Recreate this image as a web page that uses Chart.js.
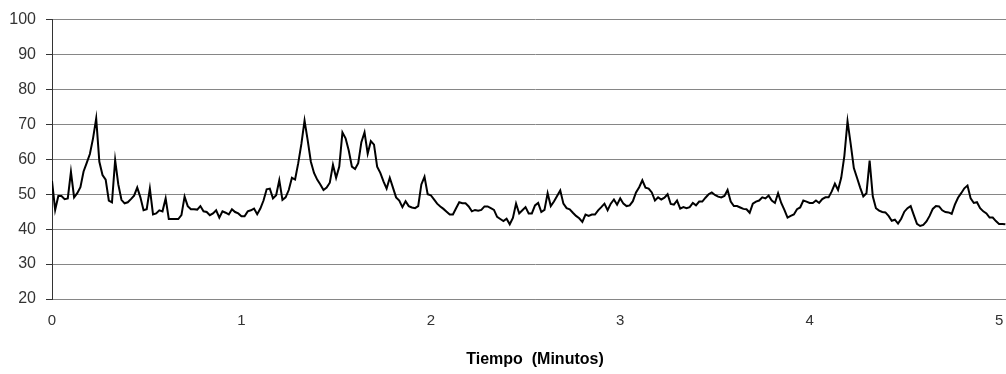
<!DOCTYPE html>
<html>
<head>
<meta charset="utf-8">
<script src="https://cdn.jsdelivr.net/npm/chart.js@4.4.1/dist/chart.umd.min.js"></script>
<style>
  html, body { margin: 0; padding: 0; background: #fff; overflow: hidden; }
  #wrap { position: relative; width: 1018px; height: 374px; }
</style>
</head>
<body>
<div id="wrap"><canvas id="chart"></canvas></div>
<script>
// Lecturas de un muestreo por segundo, agrupadas por minuto
const MIN_0 = [
  53.8, 45.5, 49.5, 49.5, 48.6, 48.8, 56.4, 49.1, 50.3, 52.0,
  56.5, 59.0, 61.5, 66.0, 71.7, 59.3, 55.5, 54.2, 48.2, 47.7,
  59.8, 52.8, 48.4, 47.4, 47.7, 48.6, 49.6, 51.9, 49.1, 45.4,
  45.7, 51.6, 44.2, 44.5, 45.4, 45.1, 48.8, 42.9, 42.9, 42.9,
  42.9, 44.0, 49.3, 46.6, 45.7, 45.7, 45.6, 46.6, 45.1, 44.9,
  44.0, 44.5, 45.4, 43.3, 45.1, 44.7, 44.2, 45.7, 44.9, 44.5,
];
const MIN_1 = [
  43.7, 43.7, 45.1, 45.4, 45.9, 44.3, 45.9, 48.2, 51.4, 51.6,
  48.8, 49.7, 54.0, 48.4, 49.1, 51.2, 54.7, 54.2, 58.9, 64.4,
  71.1, 65.4, 59.3, 56.1, 54.2, 52.8, 51.2, 51.9, 53.3, 58.4,
  54.7, 57.9, 67.7, 66.0, 62.5, 57.9, 57.2, 58.9, 64.9, 67.7,
  61.6, 65.2, 64.2, 57.9, 56.1, 53.7, 51.6, 54.7, 51.9, 49.1,
  48.2, 46.3, 48.0, 46.6, 46.2, 46.0, 46.6, 52.8, 55.0, 50.0,
];
const MIN_2 = [
  49.7, 48.5, 47.3, 46.5, 45.8, 45.0, 44.2, 44.2, 46.0, 47.7,
  47.4, 47.4, 46.5, 45.1, 45.5, 45.3, 45.5, 46.5, 46.5, 46.0,
  45.5, 43.5, 42.9, 42.3, 43.0, 41.4, 43.2, 47.3, 44.5, 45.4,
  46.3, 44.5, 44.5, 46.8, 47.5, 44.9, 45.5, 50.3, 46.6, 47.9,
  49.5, 51.1, 47.3, 46.0, 45.7, 44.7, 43.8, 43.1, 42.1, 44.2,
  43.8, 44.2, 44.2, 45.4, 46.3, 47.3, 45.4, 47.3, 48.5, 47.0,
];
const MIN_3 = [
  48.8, 47.3, 46.6, 46.8, 48.0, 50.5, 52.0, 54.0, 51.9, 51.6,
  50.5, 48.2, 49.1, 48.5, 49.0, 50.0, 47.2, 47.0, 48.2, 45.9,
  46.3, 46.0, 46.3, 47.5, 46.8, 47.9, 47.9, 49.0, 50.0, 50.5,
  49.8, 49.3, 49.1, 49.5, 51.2, 47.9, 46.6, 46.6, 46.2, 45.8,
  45.7, 44.7, 47.3, 47.9, 48.2, 49.1, 48.8, 49.6, 48.2, 47.5,
  50.3, 47.5, 45.5, 43.3, 43.8, 44.2, 45.7, 46.2, 48.2, 47.9,
];
const MIN_4 = [
  47.5, 47.5, 48.2, 47.5, 48.6, 49.1, 49.1, 50.8, 53.0, 51.2,
  54.7, 61.0, 70.9, 64.4, 57.5, 54.7, 51.9, 49.4, 50.3, 59.6,
  49.4, 46.0, 45.3, 44.9, 44.8, 43.8, 42.4, 42.7, 41.6, 43.0,
  45.0, 46.0, 46.6, 44.0, 41.5, 40.9, 41.2, 42.2, 43.8, 45.8,
  46.6, 46.5, 45.4, 44.9, 44.8, 44.4, 47.0, 49.0, 50.3, 51.7,
  52.5, 48.8, 47.5, 47.7, 46.0, 45.1, 44.5, 43.3, 43.3, 42.3,
];
const MIN_5 = [41.5, 41.5, 41.4];

const X_TICKS = [0, 1, 2, 3, 4, 5];          // minutos
const Y_TICKS = [20, 30, 40, 50, 60, 70, 80, 90, 100];
const X_TITLE = 'Tiempo  (Minutos)';

const FONT = '"Liberation Sans", Arial, sans-serif';
const GRID = '#868686';
const INK = '#333333';

const valores = [...MIN_0, ...MIN_1, ...MIN_2, ...MIN_3, ...MIN_4, ...MIN_5];
const puntos = valores.map((v, i) => ({ x: i / 60, y: v }));

new Chart(document.getElementById('chart'), {
  type: 'line',
  data: {
    datasets: [{
      data: puntos,
      borderColor: '#000000',
      borderWidth: 2,
      pointRadius: 0,
      tension: 0,
      fill: false,
    }],
  },
  options: {
    responsive: true,
    maintainAspectRatio: false,
    animation: false,
    events: [],
    layout: { padding: { top: 13, right: 0, bottom: 0, left: 0 } },
    plugins: {
      legend: { display: false },
      tooltip: { enabled: false },
    },
    scales: {
      x: {
        type: 'linear',
        min: X_TICKS[0],
        max: 5.1,
        afterBuildTicks(scale) {
          scale.ticks = X_TICKS.map(v => ({ value: v }));
        },
        afterFit(scale) { scale.height = 75; },
        grid: { display: false, drawTicks: false },
        border: { display: true, color: GRID, width: 1 },
        ticks: {
          font: { family: FONT, size: 15 },
          color: INK,
          padding: 13,
          maxRotation: 0,
          callback: v => String(v),
        },
        title: {
          display: true,
          text: X_TITLE,
          color: '#000000',
          font: { family: FONT, size: 16, weight: 'bold' },
          padding: { top: 0, bottom: 5 },
        },
      },
      y: {
        min: Y_TICKS[0],
        max: Y_TICKS[Y_TICKS.length - 1],
        afterBuildTicks(scale) {
          scale.ticks = Y_TICKS.map(v => ({ value: v }));
        },
        afterFit(scale) { scale.width = 52; },
        grid: {
          color: GRID,
          lineWidth: 1,
          drawTicks: true,
          tickLength: 6,
          tickColor: INK,
        },
        border: { display: true, color: INK, width: 1 },
        ticks: {
          font: { family: FONT, size: 16 },
          color: INK,
          padding: 10,
        },
      },
    },
  },
});
</script>
</body>
</html>
